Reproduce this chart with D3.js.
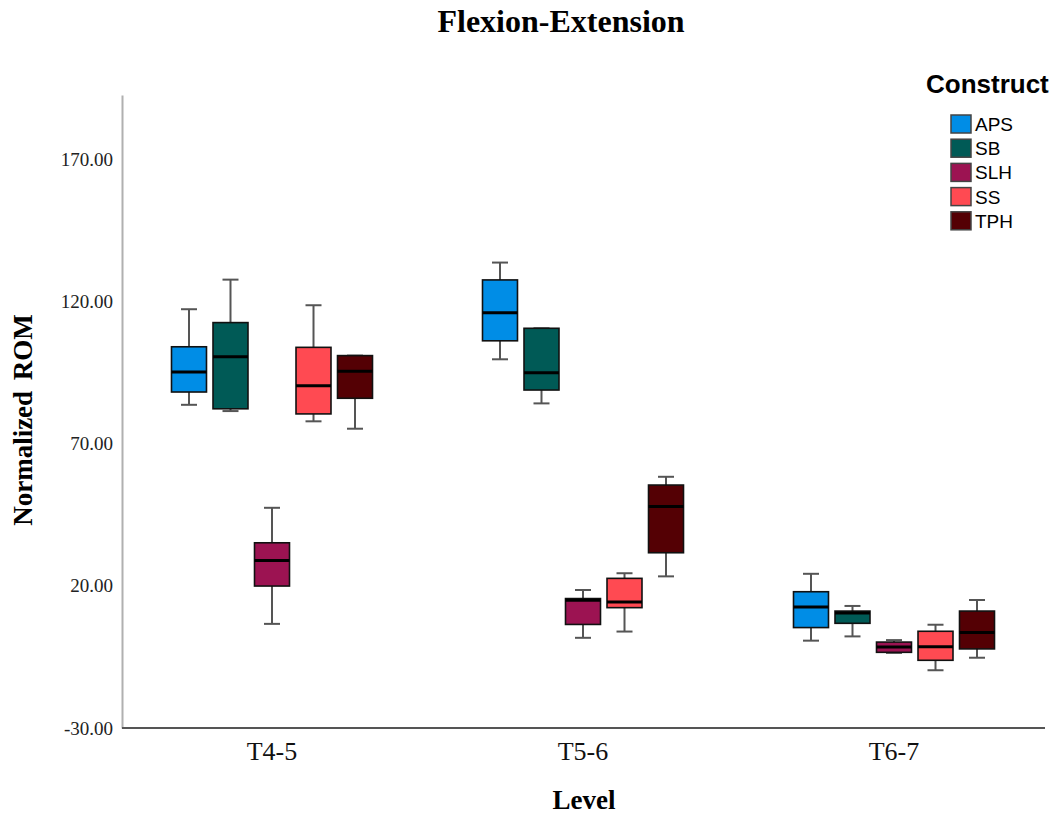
<!DOCTYPE html>
<html>
<head>
<meta charset="utf-8">
<script src="https://cdn.jsdelivr.net/npm/d3@7"></script>
<style>
	body { margin: 0; background: #fff; }
	svg { display: block; }
</style>
</head>
<body>
<div id="chart"></div>
<script>
// data: [min, q1, median, q3, max] per level
var levels = ['T4-5', 'T5-6', 'T6-7']
var constructs = ['APS', 'SB', 'SLH', 'SS', 'TPH']
var colors = ['#008de6', '#005a56', '#9c1352', '#ff4a52', '#540004']
var apsStats = [[83.6, 88.1, 95.1, 104.0, 117.2], [99.6, 106.1, 116.0, 127.5, 133.6], [0.7, 5.3, 12.5, 17.9, 24.2]]
var sbStats = [[81.4, 82.2, 100.5, 112.5, 127.6], [84.1, 88.8, 94.9, 110.5, 110.5], [2.2, 6.8, 10.4, 11.1, 12.9]]
var slhStats = [[6.6, 19.9, 28.9, 35.1, 47.4], [1.7, 6.4, 14.9, 15.5, 18.5], [-3.6, -3.4, -1.5, 0.2, 0.9]]
var ssStats = [[77.8, 80.4, 90.3, 103.8, 118.6], [3.9, 12.3, 14.3, 22.6, 24.4], [-9.7, -6.2, -1.4, 4.0, 6.3]]
var tphStats = [[75.2, 85.9, 95.4, 100.9, 100.9], [23.3, 31.6, 47.9, 55.4, 58.3], [-5.3, -2.2, 3.6, 11.1, 15.0]]
var yTicks = [-30, 20, 70, 120, 170]

var allStats = [apsStats, sbStats, slhStats, ssStats, tphStats]
var rows = []
constructs.forEach(function(c, ci) {
	levels.forEach(function(l, li) {
		var s = allStats[ci][li]
		rows.push({construct: c, level: l, min: s[0], q1: s[1], med: s[2], q3: s[3], max: s[4]})
	})
})

var width = 1055, height = 814
var svg = d3.select('#chart').append('svg').attr('width', width).attr('height', height)

var x = d3.scaleBand().domain(levels).range([116.5, 1049.5])
var xInner = d3.scaleBand().domain(constructs).range([-100.5, 100.5]).paddingInner(0.157)
var y = d3.scaleLinear().domain([-30, 192.5]).range([728, 95])
var color = d3.scaleOrdinal().domain(constructs).range(colors)

// axes
var yAxis = svg.append('g').attr('transform', 'translate(122,0)')
	.call(d3.axisLeft(y).tickValues(yTicks).tickFormat(function(d) { return d.toFixed(2) }).tickSize(0).tickPadding(9))
yAxis.select('.domain').attr('stroke', '#b0b0b0').attr('stroke-width', 2)
yAxis.selectAll('text').style('font-family', '"Liberation Serif", serif').style('font-size', '19px').attr('fill', '#222')

var xAxis = svg.append('g').attr('transform', 'translate(0,728)')
	.call(d3.axisBottom(x).tickSize(0).tickPadding(14))
xAxis.select('.domain').attr('d', 'M122,0H1045').attr('stroke', '#555').attr('stroke-width', 2)
xAxis.selectAll('text').style('font-family', '"Liberation Serif", serif').style('font-size', '26px').attr('fill', '#111')

// boxes
var bw = xInner.bandwidth()
var g = svg.append('g')
var box = g.selectAll('g.box').data(rows).enter().append('g')
	.attr('class', 'box')
	.attr('transform', function(d) { return 'translate(' + (x(d.level) + x.bandwidth() / 2 + xInner(d.construct)) + ',0)' })

box.append('line').attr('x1', bw / 2).attr('x2', bw / 2)
	.attr('y1', function(d) { return y(d.max) }).attr('y2', function(d) { return y(d.min) })
	.attr('stroke', '#555').attr('stroke-width', 2)
box.selectAll('line.cap').data(function(d) { return [d.min, d.max] }).enter().append('line')
	.attr('class', 'cap')
	.attr('x1', bw / 2 - 8).attr('x2', bw / 2 + 8)
	.attr('y1', function(v) { return y(v) }).attr('y2', function(v) { return y(v) })
	.attr('stroke', '#555').attr('stroke-width', 2)
box.append('rect').attr('x', 0).attr('width', bw)
	.attr('y', function(d) { return y(d.q3) })
	.attr('height', function(d) { return y(d.q1) - y(d.q3) })
	.attr('fill', function(d) { return color(d.construct) })
	.attr('stroke', '#111').attr('stroke-width', 1.6)
box.append('line').attr('x1', 0).attr('x2', bw)
	.attr('y1', function(d) { return y(d.med) }).attr('y2', function(d) { return y(d.med) })
	.attr('stroke', '#000').attr('stroke-width', 3)

// titles
svg.append('text').attr('x', 561).attr('y', 32).attr('text-anchor', 'middle')
	.style('font-family', '"Liberation Serif", serif').style('font-weight', 'bold').style('font-size', '32px')
	.text('Flexion-Extension')
svg.append('text').attr('x', 584).attr('y', 809).attr('text-anchor', 'middle')
	.style('font-family', '"Liberation Serif", serif').style('font-weight', 'bold').style('font-size', '27px')
	.text('Level')
svg.append('text').attr('transform', 'translate(32,420) rotate(-90)').attr('text-anchor', 'middle')
	.style('font-family', '"Liberation Serif", serif').style('font-weight', 'bold').style('font-size', '27px')
	.style('word-spacing', '4px')
	.text('Normalized ROM')

// legend
var legend = svg.append('g').attr('transform', 'translate(951,115)')
legend.append('text').attr('x', -25).attr('y', -22)
	.style('font-family', '"Liberation Sans", Arial, sans-serif').style('font-weight', 'bold').style('font-size', '26px')
	.text('Construct')
var item = legend.selectAll('g.item').data(constructs).enter().append('g')
	.attr('class', 'item')
	.attr('transform', function(d, i) { return 'translate(0,' + (i * 24.2) + ')' })
item.append('rect').attr('width', 20).attr('height', 18)
	.attr('fill', function(d) { return color(d) }).attr('stroke', '#444').attr('stroke-width', 1.5)
item.append('text').attr('x', 24).attr('y', 16)
	.style('font-family', '"Liberation Sans", Arial, sans-serif').style('font-size', '19px')
	.text(function(d) { return d })
</script>
</body>
</html>
